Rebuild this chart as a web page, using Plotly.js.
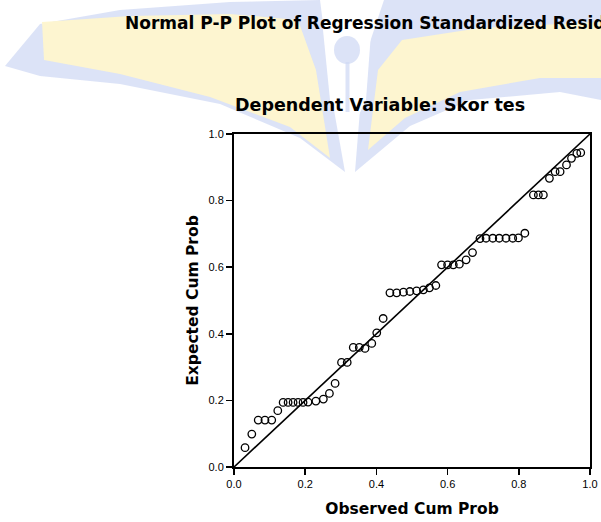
<!DOCTYPE html>
<html>
<head>
<meta charset="utf-8">
<script src="https://cdn.plot.ly/plotly-3.0.1.min.js"></script>
<style>
  html, body { margin: 0; padding: 0; background: #ffffff; }
  #chart { width: 601px; height: 522px; }
</style>
</head>
<body>
<div id="chart"></div>
<script>
// ---- data ----
var observedCumProb = [0.031, 0.050, 0.068, 0.087, 0.106, 0.123, 0.138, 0.152, 0.166, 0.180,
  0.194, 0.208, 0.230, 0.251, 0.268, 0.284, 0.302, 0.318, 0.335, 0.352,
  0.368, 0.387, 0.401, 0.419, 0.438, 0.457, 0.476, 0.494, 0.513, 0.532,
  0.549, 0.567, 0.583, 0.600, 0.616, 0.633, 0.652, 0.670, 0.691, 0.708,
  0.727, 0.745, 0.764, 0.783, 0.799, 0.817, 0.841, 0.855, 0.869, 0.886,
  0.902, 0.916, 0.934, 0.948, 0.963, 0.974];
var expectedCumProb = [0.058, 0.099, 0.141, 0.141, 0.141, 0.169, 0.194, 0.194, 0.194, 0.194,
  0.194, 0.195, 0.198, 0.204, 0.221, 0.251, 0.314, 0.314, 0.359, 0.359,
  0.356, 0.371, 0.403, 0.446, 0.523, 0.523, 0.525, 0.527, 0.529, 0.532,
  0.538, 0.545, 0.607, 0.607, 0.607, 0.609, 0.622, 0.644, 0.686, 0.687,
  0.687, 0.687, 0.687, 0.687, 0.688, 0.702, 0.817, 0.817, 0.817, 0.867,
  0.887, 0.887, 0.907, 0.927, 0.942, 0.944];
var diagonalLine = [0, 1];
var tickValues = [0, 0.2, 0.4, 0.6, 0.8, 1.0];
var tickLabels = ["0.0", "0.2", "0.4", "0.6", "0.8", "1.0"];
var mainTitle = "Normal P-P Plot of Regression Standardized Residual";
var subTitle = "Dependent Variable: Skor tes";
var xTitle = "Observed Cum Prob";
var yTitle = "Expected Cum Prob";

// ---- layout geometry (pixels) ----
var W = 601, H = 522;
var L = 234, R = 590, T = 134, B = 467;
function px(x) { return (x - L) / (R - L); }
function py(y) { return (B - y) / (B - T); }
function path(points) {
  return points.map(function (p, i) {
    return (i === 0 ? "M" : "L") + px(p[0]).toFixed(4) + "," + py(p[1]).toFixed(4);
  }).join(" ") + " Z";
}

var wmBlue = "rgba(208,218,244,0.75)";
var wmYellow = "rgba(254,246,206,0.95)";
var FONT = "DejaVu Sans, Verdana, sans-serif";

var shapes = [
  // left wing (blue)
  {type: "path", xref: "paper", yref: "paper", layer: "below", line: {width: 0}, fillcolor: wmBlue,
   path: path([[5,66],[40,24],[120,10],[230,2],[320,0],[334,110],[345,172],[300,138],[220,104],[120,84],[40,76]])},
  // left wing (yellow)
  {type: "path", xref: "paper", yref: "paper", layer: "below", line: {width: 0}, fillcolor: wmYellow,
   path: path([[42,22],[130,16],[230,14],[298,20],[316,70],[330,158],[290,127],[210,97],[120,74],[44,60]])},
  // right wing (blue)
  {type: "path", xref: "paper", yref: "paper", layer: "below", line: {width: 0}, fillcolor: wmBlue,
   path: path([[355,172],[364,60],[384,0],[601,0],[601,100],[560,92],[470,100],[410,126]])},
  // right wing (yellow)
  {type: "path", xref: "paper", yref: "paper", layer: "below", line: {width: 0}, fillcolor: wmYellow,
   path: path([[368,150],[378,70],[402,40],[480,28],[601,22],[601,78],[540,78],[460,92],[405,118]])},
  // white cutout around the nib
  {type: "path", xref: "paper", yref: "paper", layer: "below", line: {width: 0}, fillcolor: "rgba(255,255,255,1)",
   path: path([[322,20],[372,20],[366,100],[348,138],[330,100]])},
  // nib stem
  {type: "rect", xref: "paper", yref: "paper", layer: "below", line: {width: 0}, fillcolor: wmBlue,
   x0: px(345.5), x1: px(349.5), y0: py(62), y1: py(112)},
  // nib circle
  {type: "circle", xref: "paper", yref: "paper", layer: "below", line: {width: 0}, fillcolor: wmBlue,
   x0: px(334), x1: px(360), y0: py(36), y1: py(64)}
];

var traces = [
  {
    x: diagonalLine, y: diagonalLine, type: "scatter", mode: "lines",
    line: {color: "#000000", width: 1.6}, hoverinfo: "skip", showlegend: false
  },
  {
    x: observedCumProb, y: expectedCumProb, type: "scatter", mode: "markers",
    marker: {symbol: "circle-open", size: 7.5, color: "#000000", line: {width: 1.3, color: "#000000"}},
    showlegend: false
  }
];

var axisCommon = {
  range: [0, 1], tickvals: tickValues, ticktext: tickLabels,
  showgrid: false, zeroline: false, showline: true, mirror: true,
  linecolor: "#000000", linewidth: 2,
  ticks: "outside", ticklen: 6, tickwidth: 1.5, tickcolor: "#000000",
  tickfont: {family: "Liberation Sans, Arial, sans-serif", size: 11, color: "#000000"},
  fixedrange: true
};

var layout = {
  width: W, height: H,
  margin: {l: L, r: W - R, t: T, b: H - B, pad: 0},
  paper_bgcolor: "#ffffff",
  plot_bgcolor: "rgba(0,0,0,0)",
  showlegend: false,
  xaxis: Object.assign({}, axisCommon, {
    title: {text: xTitle, standoff: 14,
      font: {family: FONT, size: 15.5, color: "#000000", weight: "bold"}}
  }),
  yaxis: Object.assign({}, axisCommon, {
    title: {text: yTitle, standoff: 6,
      font: {family: FONT, size: 15.5, color: "#000000", weight: "bold"}}
  }),
  shapes: shapes,
  annotations: [
    {text: "<b>" + mainTitle + "</b>", xref: "paper", yref: "paper",
     x: px(380), y: py(23), xanchor: "center", yanchor: "middle", showarrow: false,
     font: {family: FONT, size: 17, color: "#000000"}},
    {text: "<b>" + subTitle + "</b>", xref: "paper", yref: "paper",
     x: px(380), y: py(105), xanchor: "center", yanchor: "middle", showarrow: false,
     font: {family: FONT, size: 17.5, color: "#000000"}}
  ]
};

Plotly.newPlot("chart", traces, layout, {displayModeBar: false, staticPlot: true});
</script>
</body>
</html>
